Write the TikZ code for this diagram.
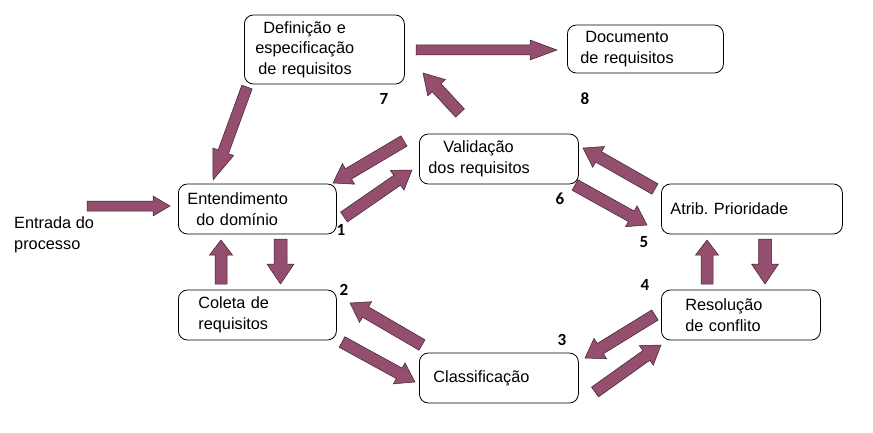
\documentclass[tikz,border=0pt]{standalone}
\usepackage{fontspec}
\setmainfont{Liberation Sans}
\newfontfamily\numfont{Carlito}
\usetikzlibrary{calc}

\definecolor{arrowfill}{RGB}{148,78,110}
\definecolor{arrowline}{RGB}{62,32,46}

\tikzset{
  box/.style={draw, rounded corners=9pt, line width=0.8pt, minimum height=50pt,
    align=left, anchor=west, font=\fontsize{16.3}{20.5}\selectfont},
  plain/.style={align=left, anchor=west, inner sep=0pt, font=\fontsize{16.3}{20.5}\selectfont},
  num/.style={inner sep=0pt, font=\numfont\bfseries\fontsize{17}{17}\selectfont},
  blockarrow/.style={fill=arrowfill, draw=arrowline, line width=0.5pt, line join=miter}
}

% block arrow: tail, tip, half shaft, half head, head length
\newcommand\barrow[5]{%
  \draw[blockarrow] let \p1=($(#2)-(#1)$), \n1={atan2(\y1,\x1)}, \n2={veclen(\x1,\y1)-#5pt} in
    ($(#1)+(\n1+90:#3pt)$) -- ($(#1)+(\n1:\n2)+(\n1+90:#3pt)$)
    -- ($(#1)+(\n1:\n2)+(\n1+90:#4pt)$) -- (#2)
    -- ($(#1)+(\n1:\n2)+(\n1-90:#4pt)$) -- ($(#1)+(\n1:\n2)+(\n1-90:#3pt)$)
    -- ($(#1)+(\n1-90:#3pt)$) -- cycle;}

\begin{document}
\frenchspacing
\begin{tikzpicture}[x=1pt, y=-1pt]
  \useasboundingbox (0,0) rectangle (873,433);

  % boxes
  \node[box, text width=138pt, inner xsep=11pt, minimum height=69pt] (def) at (244,49.5)
    {\hspace*{8pt}Definição e\\especificação\\\hspace*{3pt}de requisitos};
  \node[box, text width=130pt, inner xsep=13pt, minimum height=48pt] (doc) at (567,49)
    {\hspace*{5pt}Documento\\de requisitos};
  \node[box, text width=141pt, inner xsep=9pt] (val) at (419,159)
    {\hspace*{15pt}Validação\\dos requisitos};
  \node[box, text width=140pt, inner xsep=9pt] (ent) at (178,209)
    {Entendimento\\\hspace*{9pt}do domínio};
  \node[box, text width=163pt, inner xsep=9pt] (pri) at (661,209) {Atrib. Prioridade};
  \node[box, text width=118pt, inner xsep=20pt] (col) at (178,315) {Coleta de\\requisitos};
  \node[box, text width=111pt, inner xsep=24pt] (res) at (661,315) {Resolução\\de conflito};
  \node[box, text width=131pt, inner xsep=14pt] (cla) at (419,378) {Classificação};
  \node[plain] (inp) at (14,235) {Entrada do\\processo};

  % step numbers
  \node[num] (n1) at (341,230) {1};
  \node[num] (n2) at (344,290) {2};
  \node[num] (n3) at (562,340) {3};
  \node[num] (n4) at (645,285) {4};
  \node[num] (n5) at (644,242) {5};
  \node[num] (n6) at (560,199) {6};
  \node[num] (n7) at (384,99) {7};
  \node[num] (n8) at (585,99) {8};

  % arrow ends
  \coordinate (inpT) at (87,206);    \coordinate (inpH) at (170,206);
  \coordinate (defdocT) at (416,50); \coordinate (defdocH) at (557,50);
  \coordinate (defentT) at (247,87); \coordinate (defentH) at (213,180);
  \coordinate (valdefT) at (460,113); \coordinate (valdefH) at (423,73);
  \coordinate (valentT) at (404,141); \coordinate (valentH) at (333,183);
  \coordinate (entvalT) at (344,217); \coordinate (entvalH) at (412,170);
  \coordinate (privalT) at (655,189); \coordinate (privalH) at (583,148);
  \coordinate (valpriT) at (575,185); \coordinate (valpriH) at (647,225);
  \coordinate (entcolT) at (280.5,239); \coordinate (entcolH) at (280.5,284);
  \coordinate (colentT) at (221,284); \coordinate (colentH) at (221,240);
  \coordinate (respriT) at (707,284); \coordinate (respriH) at (707,240);
  \coordinate (priresT) at (765,239); \coordinate (priresH) at (765,284);
  \coordinate (clacolT) at (422,345); \coordinate (clacolH) at (350,303);
  \coordinate (colclaT) at (342,342); \coordinate (colclaH) at (415,382);
  \coordinate (resclaT) at (655,315); \coordinate (resclaH) at (585,358);
  \coordinate (claresT) at (595,392); \coordinate (claresH) at (661,345);

  % block arrows
  \barrow{inpT}{inpH}{5}{10}{17}
  \barrow{defdocT}{defdocH}{5}{10}{27}
  \barrow{defentT}{defentH}{5.5}{11}{30}
  \barrow{valdefT}{valdefH}{6}{12}{20}
  \barrow{valentT}{valentH}{6}{12}{18}
  \barrow{entvalT}{entvalH}{6}{12}{18}
  \barrow{privalT}{privalH}{6}{12}{18}
  \barrow{valpriT}{valpriH}{6}{12}{18}
  \barrow{entcolT}{entcolH}{6.5}{13.5}{20}
  \barrow{colentT}{colentH}{6}{11.5}{15}
  \barrow{respriT}{respriH}{6}{11.5}{15}
  \barrow{priresT}{priresH}{6.5}{13.5}{20}
  \barrow{clacolT}{clacolH}{6}{12}{18}
  \barrow{colclaT}{colclaH}{6}{12}{18}
  \barrow{resclaT}{resclaH}{6}{12}{18}
  \barrow{claresT}{claresH}{6}{12}{18}
\end{tikzpicture}
\end{document}
